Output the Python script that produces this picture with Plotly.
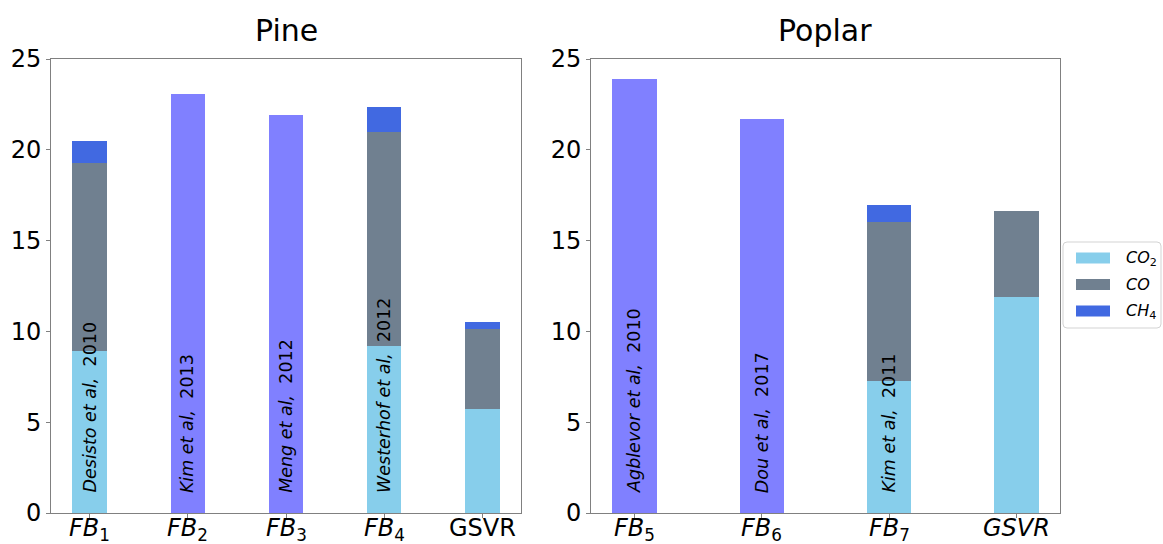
import plotly.graph_objects as go

# Gas yields per feedstock (stacked CO2 / CO / CH4), plus total-only studies
pine_labels = ["<i>FB</i><sub>1</sub>", "<i>FB</i><sub>2</sub>", "<i>FB</i><sub>3</sub>",
               "<i>FB</i><sub>4</sub>", "GSVR"]
pine_co2 = [8.9, None, None, 9.2, 5.7]
pine_co = [10.35, None, None, 11.8, 4.42]
pine_ch4 = [1.25, None, None, 1.35, 0.38]
pine_total = [None, 23.1, 21.9, None, None]
pine_refs = [("Desisto et al,", "2010"), ("Kim et al,", "2013"), ("Meng et al,", "2012"),
             ("Westerhof et al,", "2012"), None]

poplar_labels = ["<i>FB</i><sub>5</sub>", "<i>FB</i><sub>6</sub>", "<i>FB</i><sub>7</sub>",
                 "<i>GSVR</i>"]
poplar_co2 = [None, None, 7.25, 11.9]
poplar_co = [None, None, 8.75, 4.75]
poplar_ch4 = [None, None, 0.95, 0.0]
poplar_total = [23.9, 21.7, None, None]
poplar_refs = [("Agblevor et al,", "2010"), ("Dou et al,", "2017"), ("Kim et al,", "2011"), None]

legend_names = ["<i>CO</i><sub>2</sub>", "<i>CO</i>", "<i>CH</i><sub>4</sub>"]

C_CO2 = "#87CEEB"
C_CO = "#708090"
C_CH4 = "#4169E1"
C_TOT = "#8080FF"
FONT = "DejaVu Sans"
W, H = 1163, 544
BAR_W = 0.35


def px(x):
    return x / W


def py(y):
    return 1 - y / H


fig = go.Figure()


def add_panel(labels, co2, co, ch4, total, xa, ya):
    common = dict(x=labels, width=BAR_W, xaxis=xa, yaxis=ya, hoverinfo="skip",
                  marker_line_width=0, showlegend=False)
    fig.add_trace(go.Bar(y=total, marker_color=C_TOT, **common))
    fig.add_trace(go.Bar(y=co2, marker_color=C_CO2, name=legend_names[0], **common))
    fig.add_trace(go.Bar(y=co, marker_color=C_CO, name=legend_names[1], **common))
    fig.add_trace(go.Bar(y=ch4, marker_color=C_CH4, name=legend_names[2], **common))


add_panel(pine_labels, pine_co2, pine_co, pine_ch4, pine_total, "x", "y")
add_panel(poplar_labels, poplar_co2, poplar_co, poplar_ch4, poplar_total, "x2", "y2")

# Rotated study labels inside the bars, and category labels under the axes
for labels, refs, xa, ya in [(pine_labels, pine_refs, "x", "y"),
                             (poplar_labels, poplar_refs, "x2", "y2")]:
    for lab, ref in zip(labels, refs):
        fig.add_annotation(x=lab, y=py(512), xref=xa, yref="paper", text=lab,
                           showarrow=False, yanchor="top", xanchor="center",
                           font=dict(family=FONT, size=24, color="black"))
        if ref is None:
            continue
        fig.add_annotation(x=lab, y=1.0, xref=xa, yref=ya, textangle=-90,
                           text=f"<i>{ref[0]}</i>&nbsp;&nbsp;{ref[1]}",
                           showarrow=False, yanchor="bottom", xanchor="center",
                           font=dict(family=FONT, size=17.5, color="black"))

left_dom = [51 / W, 521 / W]
right_dom = [591 / W, 1060 / W]
y_dom = [1 - 513 / H, 1 - 59 / H]

axis_style = dict(showline=True, linecolor="#808080", linewidth=1, mirror=True,
                  ticks="outside", ticklen=4, tickcolor="#808080", showgrid=False,
                  zeroline=False, automargin=False,
                  tickfont=dict(family=FONT, size=24, color="black"))

fig.update_layout(
    width=W, height=H, margin=dict(l=0, r=0, t=0, b=0, autoexpand=False),
    plot_bgcolor="white", paper_bgcolor="white", barmode="stack", showlegend=False,
    xaxis=dict(domain=left_dom, anchor="y", type="category", showticklabels=False,
               range=[-0.3925, 4.3925], **axis_style),
    yaxis=dict(domain=y_dom, anchor="x", range=[0, 25], tickvals=[0, 5, 10, 15, 20, 25],
               **axis_style),
    xaxis2=dict(domain=right_dom, anchor="y2", type="category", showticklabels=False,
                range=[-0.3425, 3.3425], **axis_style),
    yaxis2=dict(domain=y_dom, anchor="x2", range=[0, 25], tickvals=[0, 5, 10, 15, 20, 25],
                **axis_style),
)

for txt, dom in [("Pine", left_dom), ("Poplar", right_dom)]:
    fig.add_annotation(x=(dom[0] + dom[1]) / 2, y=py(30), xref="paper", yref="paper",
                       text=txt, showarrow=False, xanchor="center", yanchor="middle",
                       font=dict(family=FONT, size=30, color="black"))

# Legend box with wide colour patches, drawn in pixel terms
bx0, bx1, by0, by1, r = 1063, 1161, 242, 328, 4
path = (f"M {px(bx0 + r)},{py(by0)} L {px(bx1 - r)},{py(by0)} "
        f"Q {px(bx1)},{py(by0)} {px(bx1)},{py(by0 + r)} "
        f"L {px(bx1)},{py(by1 - r)} Q {px(bx1)},{py(by1)} {px(bx1 - r)},{py(by1)} "
        f"L {px(bx0 + r)},{py(by1)} Q {px(bx0)},{py(by1)} {px(bx0)},{py(by1 - r)} "
        f"L {px(bx0)},{py(by0 + r)} Q {px(bx0)},{py(by0)} {px(bx0 + r)},{py(by0)} Z")
fig.add_shape(type="path", path=path, xref="paper", yref="paper",
              line=dict(color="#d3d3d3", width=1), fillcolor="white", layer="above")

for i, (name, col) in enumerate(zip(legend_names, [C_CO2, C_CO, C_CH4])):
    cy = 258 + i * 26.5
    fig.add_shape(type="rect", xref="paper", yref="paper",
                  x0=px(1076), x1=px(1110), y0=py(cy - 5.5), y1=py(cy + 5.5),
                  fillcolor=col, line_width=0, layer="above")
    fig.add_annotation(x=px(1124), y=py(cy), xref="paper", yref="paper", text=name,
                       showarrow=False, xanchor="left", yanchor="middle",
                       font=dict(family=FONT, size=16, color="black"))

fig.write_html("out.html")
